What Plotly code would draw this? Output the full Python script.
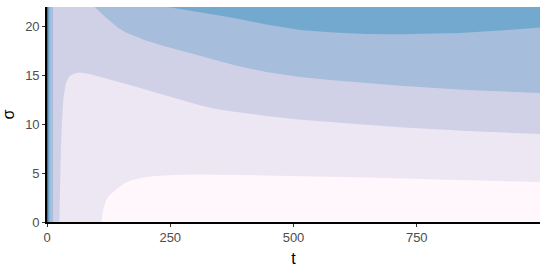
import plotly.graph_objects as go

# ------------------------------------------------------------------
# band boundaries (t, sigma)
# ------------------------------------------------------------------

t_max = 1000
s_max = 22

band_colors = ['#fff7fb', '#ece7f2', '#d0d1e6', '#a6bddb', '#74a9cf', '#3690c0', '#0570b0']

# lightest pocket (bottom right) / #ece7f2
c2_t = [111, 113, 116, 120, 125, 132, 141, 155, 172, 195, 219, 260, 300, 401, 520, 648, 800, 1000]
c2_s = [0, 1.0, 1.6, 2.2, 2.65, 3.0, 3.35, 3.9, 4.3, 4.55, 4.7, 4.8, 4.85, 4.8, 4.7, 4.55, 4.35, 4.1]

# #ece7f2 / #d0d1e6
c3_t = [25, 26, 28, 30, 33, 38, 45, 55, 67, 90, 121, 155, 189, 220, 250, 280, 310, 340, 377, 445, 510, 581, 716, 852, 1000]
c3_s = [0, 3, 7, 10, 12.5, 14.2, 14.9, 15.2, 15.3, 15.1, 14.7, 14.2, 13.7, 13.25, 12.8, 12.35, 11.95, 11.6, 11.3, 10.85, 10.5, 10.2, 9.7, 9.3, 9.0]

# #d0d1e6 / #a6bddb (top part) and left strip edge
c4_t = [97, 104, 111, 121, 131, 145, 160, 180, 199, 230, 266, 310, 340, 377, 410, 445, 513, 581, 716, 852, 1000]
c4_s = [22, 21.7, 21.3, 20.85, 20.4, 19.85, 19.4, 18.95, 18.6, 18.1, 17.6, 17.0, 16.55, 16.1, 15.7, 15.35, 14.85, 14.5, 13.95, 13.5, 13.2]
c4_left = 12

# #a6bddb / #74a9cf (top part) and left strip edge
c5_t = [245, 270, 310, 377, 445, 513, 581, 648, 716, 837, 920, 1000]
c5_s = [22, 21.8, 21.5, 20.9, 20.2, 19.65, 19.4, 19.25, 19.2, 19.35, 19.6, 19.9]
c5_left = 5

# darker thin strips next to t = 0
c6_left = 2.5
c7_left = 1

x_ticks = [0, 250, 500, 750]
y_ticks = [0, 5, 10, 15, 20]


def poly(fig, xs, ys, color):
    fig.add_trace(go.Scatter(x=xs, y=ys, mode='lines', fill='toself',
                             fillcolor=color, line=dict(width=0, color=color),
                             hoverinfo='skip', showlegend=False))


def strip(fig, t_edge, color):
    poly(fig, [0, t_edge, t_edge, 0, 0], [0, 0, s_max, s_max, 0], color)


fig = go.Figure()

# background band
poly(fig, [0, t_max, t_max, 0, 0], [0, 0, s_max, s_max, 0], band_colors[0])

# region above c2
poly(fig, c2_t + [t_max, 0, 0], c2_s + [s_max, s_max, 0], band_colors[1])

# region above c3
poly(fig, c3_t + [t_max, 0, 0], c3_s + [s_max, s_max, 0], band_colors[2])

# region above c4: top part + left strip
poly(fig, c4_t + [t_max, c4_t[0]], c4_s + [s_max, c4_s[0]], band_colors[3])
strip(fig, c4_left, band_colors[3])

# region above c5
poly(fig, c5_t + [t_max, c5_t[0]], c5_s + [s_max, c5_s[0]], band_colors[4])
strip(fig, c5_left, band_colors[4])

strip(fig, c6_left, band_colors[5])
strip(fig, c7_left, band_colors[6])

font = 'Liberation Sans, Arial, sans-serif'

fig.update_layout(
    width=550, height=271,
    margin=dict(l=47, r=10, t=7, b=49),
    paper_bgcolor='white', plot_bgcolor='white',
    font=dict(family=font, color='#4d4d4d', size=13),
    showlegend=False,
)

fig.update_xaxes(range=[0, t_max], tickvals=x_ticks, ticktext=[str(v) for v in x_ticks],
                 showgrid=False, zeroline=False,
                 showline=True, linecolor='black', linewidth=1.6,
                 ticks='outside', ticklen=3, tickwidth=1.1, tickcolor='#333333',
                 tickfont=dict(size=13, color='#4d4d4d'),
                 title=dict(text='t', font=dict(size=16, color='black'), standoff=8))

fig.update_yaxes(range=[0, s_max], tickvals=y_ticks, ticktext=[str(v) for v in y_ticks],
                 showgrid=False, zeroline=False,
                 showline=True, linecolor='black', linewidth=1.6,
                 ticks='outside', ticklen=3, tickwidth=1.1, tickcolor='#333333',
                 tickfont=dict(size=13, color='#4d4d4d'),
                 title=dict(text='σ', font=dict(size=16, color='black'), standoff=8))

fig.write_html("out.html", config={'displayModeBar': False},
               post_script="document.body.style.margin='0';document.body.style.overflow='hidden';")
